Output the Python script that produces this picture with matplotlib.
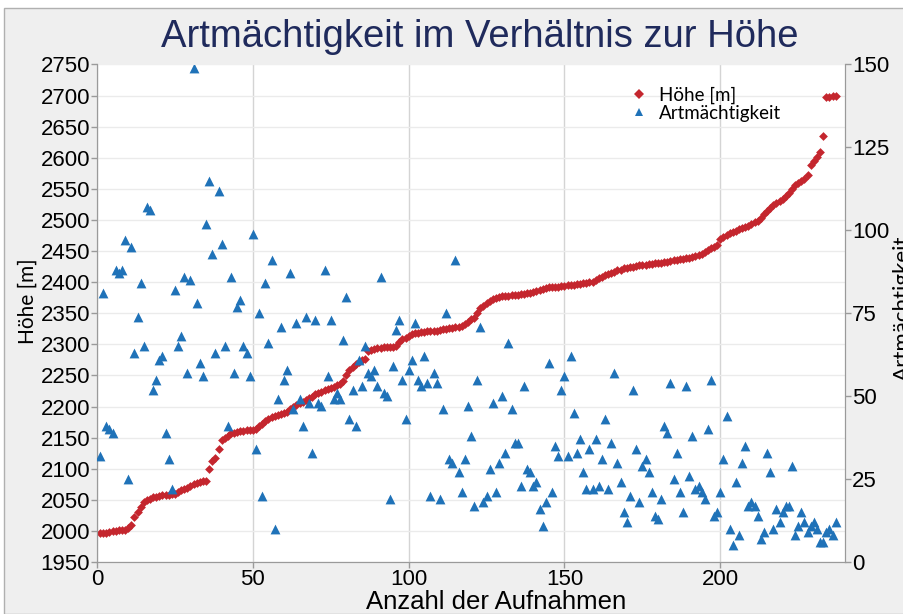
import matplotlib

matplotlib.use("Agg")
import matplotlib.pyplot as plt
from matplotlib.lines import Line2D
from matplotlib.patches import Rectangle
import numpy as np

# Höhe [m] per Aufnahme (sortiert)
hoehe = [
    1996, 1996, 1997, 1998, 2000, 2000, 2001, 2001, 2002, 2004,
    2010, 2022, 2030, 2038, 2046, 2050, 2052, 2054, 2055, 2056,
    2057, 2057, 2058, 2059, 2060, 2063, 2066, 2068, 2069, 2072,
    2075, 2077, 2078, 2080, 2081, 2099, 2112, 2118, 2132, 2146,
    2149, 2152, 2157, 2158, 2159, 2160, 2161, 2162, 2162, 2163,
    2164, 2168, 2172, 2176, 2180, 2183, 2185, 2186, 2188, 2189,
    2192, 2196, 2199, 2202, 2206, 2208, 2210, 2213, 2216, 2220,
    2222, 2224, 2226, 2228, 2230, 2232, 2234, 2237, 2241, 2250,
    2258, 2263, 2268, 2272, 2275, 2277, 2289, 2291, 2293, 2294,
    2294, 2295, 2295, 2296, 2296, 2297, 2304, 2308, 2311, 2314,
    2316, 2318, 2319, 2320, 2320, 2321, 2321, 2322, 2322, 2323,
    2324, 2325, 2326, 2327, 2328, 2328, 2330, 2333, 2336, 2340,
    2343, 2350, 2358, 2362, 2366, 2370, 2373, 2375, 2376, 2377,
    2377, 2378, 2379, 2379, 2380, 2381, 2381, 2382, 2383, 2384,
    2385, 2387, 2389, 2391, 2392, 2392, 2393, 2393, 2394, 2394,
    2395, 2395, 2396, 2397, 2397, 2398, 2399, 2400, 2401, 2403,
    2406, 2408, 2411, 2413, 2415, 2417, 2419, 2420, 2422, 2423,
    2424, 2425, 2426, 2427, 2428, 2428, 2429, 2429, 2430, 2430,
    2431, 2432, 2433, 2434, 2435, 2436, 2437, 2438, 2439, 2439,
    2440, 2442, 2444, 2446, 2449, 2452, 2455, 2457, 2460, 2470,
    2473, 2476, 2479, 2481, 2483, 2485, 2487, 2489, 2491, 2494,
    2497, 2499, 2503, 2509, 2515, 2520, 2524, 2528, 2531, 2534,
    2538, 2543, 2550, 2556, 2559, 2563, 2566, 2572, 2588, 2595,
    2602, 2610, 2635, 2698, 2698, 2699, 2700,
]

# Artmächtigkeit per Aufnahme
artm = [
    32, 81, 41, 40, 39, 88, 87, 88, 97, 25,
    95, 63, 74, 84, 65, 107, 106, 52, 55, 61,
    62, 39, 31, 22, 82, 65, 68, 86, 57, 85,
    149, 78, 60, 56, 102, 115, 93, 63, 112, 96,
    65, 41, 86, 57, 77, 79, 65, 63, 56, 99,
    34, 75, 20, 84, 66, 91, 10, 49, 71, 55,
    58, 87, 46, 72, 49, 41, 74, 48, 33, 73,
    48, 47, 88, 56, 73, 49, 51, 49, 67, 80,
    43, 52, 41, 61, 53, 65, 57, 56, 58, 53,
    86, 51, 50, 19, 59, 70, 73, 55, 43, 58,
    61, 72, 55, 53, 62, 54, 20, 57, 54, 19,
    46, 75, 31, 30, 91, 27, 21, 31, 47, 38,
    17, 55, 71, 18, 20, 28, 48, 21, 30, 50,
    33, 66, 46, 36, 36, 23, 53, 28, 27, 23,
    24, 16, 11, 18, 60, 21, 35, 32, 52, 56,
    32, 62, 45, 33, 37, 27, 22, 34, 22, 37,
    23, 31, 43, 22, 36, 57, 30, 24, 15, 12,
    20, 52, 34, 18, 29, 31, 27, 21, 14, 13,
    19, 41, 39, 54, 25, 33, 21, 15, 53, 26,
    38, 22, 23, 21, 19, 40, 55, 14, 15, 21,
    31, 44, 10, 5, 24, 8, 30, 35, 17, 18,
    17, 14, 7, 9, 33, 27, 10, 16, 12, 15,
    17, 17, 29, 8, 11, 15, 12, 9, 11, 12,
    10, 6, 6, 9, 10, 8, 12,
]

aufnahme = np.arange(1, len(hoehe) + 1)

RED = "#c4262e"
BLUE = "#1f72b8"
BG = "#efefef"
NAVY = "#1f2a5c"
TICKFONT = ["Liberation Sans Narrow", "Liberation Sans", "DejaVu Sans"]
LABFONT = ["Lato", "DejaVu Sans"]

fig = plt.figure(figsize=(9.04, 6.14), dpi=100, facecolor="white")
fig.patches.append(
    Rectangle((4 / 904, 0), 1, 1 - 8 / 614, transform=fig.transFigure,
              facecolor=BG, edgecolor="#b0b0b0", lw=1.0, zorder=-10)
)

ax = fig.add_axes([97 / 904, 1 - 562 / 614, 748 / 904, 497.5 / 614])
ax.set_facecolor("white")
ax2 = ax.twinx()

ax.scatter(aufnahme, hoehe, marker="D", s=20, color=RED, linewidths=0, zorder=3)
ax2.scatter(aufnahme, artm, marker="^", s=50, color=BLUE, linewidths=0, zorder=3)

ax.set_xlim(0, 240)
ax.set_ylim(1950, 2750)
ax2.set_ylim(0, 150)
ax.set_xticks([0, 50, 100, 150, 200])
ax.set_yticks(np.arange(1950, 2751, 50))
ax2.set_yticks([0, 25, 50, 75, 100, 125, 150])

ax.grid(axis="y", color="#ebebeb", lw=1.0)
ax.grid(axis="x", color="#d4d4d4", lw=1.0)
ax.set_axisbelow(True)

for a in (ax, ax2):
    for s in a.spines.values():
        s.set_color("#9a9a9a")
    a.spines["top"].set_visible(False)
    a.tick_params(colors="#9a9a9a", labelcolor="black", length=4, width=1,
                  labelsize=16, pad=1)
    for lab in a.get_xticklabels() + a.get_yticklabels():
        lab.set_family(TICKFONT)

ax.set_xlabel("Anzahl der Aufnahmen", family=TICKFONT, fontsize=18.5)
ax.xaxis.set_label_coords(0.533, -0.057)
ax.set_ylabel("Höhe [m]", family=LABFONT, fontsize=15)
ax.yaxis.set_label_coords(-0.079, 0.525)
ax2.set_ylabel("Artmächtigkeit", family=LABFONT, fontsize=16, rotation=90)
ax2.yaxis.set_label_coords(1.064, 0.51)

fig.text(0.531, 1 - 37 / 614, "Artmächtigkeit im Verhältnis zur Höhe",
         ha="center", va="center", color=NAVY, fontsize=27.5,
         family=["Liberation Sans", "DejaVu Sans"])

handles = [
    Line2D([], [], ls="", marker="D", ms=5, color=RED, mew=0, label="Höhe [m]"),
    Line2D([], [], ls="", marker="^", ms=6, color=BLUE, mew=0, label="Artmächtigkeit"),
]
ax2.legend(handles=handles, loc="upper right", bbox_to_anchor=(0.925, 0.97),
           frameon=False, prop={"family": LABFONT, "size": 13.5},
           handletextpad=0.1, labelspacing=0.02, borderaxespad=0)

fig.savefig("out.png", dpi=100, facecolor=fig.get_facecolor())
